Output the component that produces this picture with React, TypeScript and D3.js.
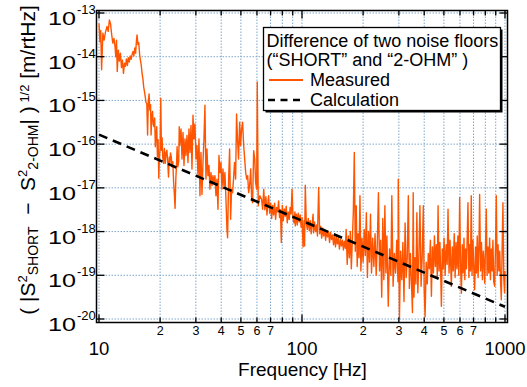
import * as d3 from "d3";

// log10 of the measured amplitude spectral density vs frequency [Hz]
const measuredLow: [number, number][] = [
  [10.0, -13.24], [10.1, -13.66], [10.2, -13.4], [10.3, -14.3], [10.45, -13.46], [10.6, -13.62],
  [10.75, -13.45], [10.95, -13.31], [11.1, -13.42], [11.25, -13.16], [11.4, -13.25], [11.55, -13.5],
  [11.7, -13.69], [11.85, -13.58], [12.0, -13.78], [12.1, -14.0], [12.2, -13.62], [12.3, -14.34],
  [12.45, -13.85], [12.6, -14.1], [12.75, -13.92], [12.9, -14.25], [13.05, -14.08], [13.2, -14.38],
  [13.35, -14.15], [13.5, -14.22], [13.65, -14.05], [13.8, -14.2], [13.95, -14.02], [14.1, -14.12],
  [14.25, -13.98], [14.4, -14.06], [14.55, -13.95], [14.7, -13.88], [14.85, -13.98], [15.0, -13.8],
  [15.15, -13.92], [15.3, -13.62], [15.4, -13.5], [15.55, -13.72], [15.7, -13.68], [15.85, -13.95],
  [16.0, -14.08], [16.15, -14.2], [16.3, -14.38], [16.45, -14.5], [16.6, -14.69], [16.75, -14.8],
  [16.9, -14.92], [17.05, -15.05], [17.2, -15.07], [17.35, -15.79], [17.5, -15.02], [17.65, -14.85],
  [17.8, -15.22], [17.95, -15.1], [18.05, -15.79], [18.2, -15.37], [18.35, -15.25], [18.5, -15.55],
  [18.65, -15.6], [18.8, -15.4], [18.95, -16.06], [19.1, -15.75], [19.25, -15.6], [19.4, -16.29],
  [19.55, -15.9], [19.7, -16.78], [19.85, -16.29], [20.0, -16.1], [20.15, -14.95], [20.3, -16.14],
  [20.45, -15.85], [20.6, -16.29], [20.8, -16.44], [21.0, -16.1], [21.2, -16.44], [21.4, -16.2],
  [21.6, -16.14], [21.8, -16.4], [22.0, -16.75], [22.2, -16.3], [22.35, -16.44], [22.5, -16.2],
  [22.7, -16.29], [22.9, -16.52], [23.1, -16.4], [23.3, -16.85], [23.5, -17.13], [23.7, -17.47],
  [23.9, -16.8], [24.1, -16.45], [24.25, -16.06], [24.45, -16.52], [24.7, -16.4], [24.85, -15.6],
  [25.0, -16.03],
];

const measuredMid: [number, number][] = [
  [25.35, -15.65], [25.64, -16.34], [25.93, -15.73], [26.22, -16.49], [26.52, -15.88], [26.82, -16.26],
  [27.13, -15.8], [27.44, -16.42], [27.75, -15.65], [28.07, -16.19], [28.39, -15.57], [28.71, -16.57],
  [29.04, -15.34], [29.37, -15.88], [29.7, -15.54], [30.04, -16.34], [30.38, -16.03], [30.73, -16.72],
  [31.08, -15.88], [31.43, -17.18], [31.79, -16.19], [32.15, -17.15], [32.52, -16.42], [32.89, -15.88],
  [33.26, -15.11], [33.64, -16.8], [34.03, -16.11], [34.41, -16.72], [34.81, -16.49], [35.2, -17.03],
  [35.61, -16.65], [36.01, -16.95], [36.42, -16.72], [36.84, -16.88], [37.26, -16.72], [37.68, -17.18],
  [38.11, -16.8], [38.55, -17.49], [38.99, -16.26], [39.43, -16.65], [39.88, -16.42], [40.34, -17.03],
  [40.8, -16.57], [41.26, -16.95], [41.73, -16.65], [42.21, -17.26], [42.69, -17.95], [43.0, -18.14],
  [43.5, -16.8], [44.0, -16.11], [44.5, -17.72], [45.0, -17.03], [45.5, -17.11], [46.0, -16.8],
  [46.5, -16.42], [47.1, -16.8], [47.6, -15.31], [48.2, -15.96], [48.7, -16.34], [49.3, -15.5],
  [49.8, -16.03], [50.4, -15.65], [51.0, -15.5], [51.6, -16.03], [52.2, -16.34], [52.8, -16.65],
  [53.4, -16.8], [54.0, -16.72], [54.6, -17.11], [55.2, -16.95], [55.9, -16.57], [56.5, -17.26],
  [57.1, -17.34], [57.8, -16.15], [58.5, -16.34], [59.1, -16.88], [59.8, -17.03], [60.2, -14.58],
  [60.9, -17.41], [62.0, -17.18], [63.2, -17.26], [64.0, -17.49],
  [64.8, -17.03], [65.6, -17.5], [66.4, -17.2], [67.2, -17.62], [68.0, -17.3], [68.5, -17.18],
  [69.3, -17.58], [70.1, -17.35], [70.9, -17.7], [71.7, -17.4], [72.5, -17.62], [73.3, -17.35],
  [74.1, -17.72], [75.0, -17.45], [75.8, -17.55], [76.7, -17.3], [77.5, -17.68], [78.3, -17.5],
  [79.1, -18.25], [80.0, -17.4], [80.9, -17.75], [81.8, -17.48], [82.7, -17.65], [83.6, -17.42],
  [84.6, -17.8], [85.5, -17.55], [86.5, -17.72], [87.4, -17.45], [88.4, -17.6], [89.3, -17.03],
  [90.3, -17.7], [91.3, -17.8], [92.3, -17.55], [92.7, -17.87], [93.8, -17.6], [94.8, -17.85],
  [95.8, -17.58], [96.9, -17.78], [98.0, -17.62], [99.0, -17.9], [100.1, -17.68], [101.2, -18.35],
  [102.3, -17.75], [103.0, -18.33], [103.8, -16.94], [105.0, -17.8], [106.2, -17.95], [107.4, -17.7],
  [108.6, -17.98], [109.8, -17.75], [111.0, -18.05], [112.2, -17.82], [113.4, -17.6], [114.0, -18.03],
  [115.3, -17.78], [116.6, -18.0], [117.9, -17.85], [119.2, -18.1], [120.8, -16.99], [122.2, -18.05],
  [123.6, -17.88], [125.0, -18.15], [126.4, -17.92], [127.8, -18.1], [129.3, -17.95], [130.7, -18.2],
  [132.2, -17.98], [133.7, -18.12], [135.2, -18.0], [136.7, -18.25], [138.2, -18.02], [139.8, -18.18],
  [141.4, -18.08], [143.0, -18.3], [144.6, -18.1], [146.2, -18.35], [147.9, -18.12], [149.5, -18.28],
  [151.2, -18.15], [152.9, -18.4], [154.7, -18.18], [156.4, -18.33], [158.2, -18.2], [160.0, -18.42],
  [161.8, -18.22], [163.6, -18.38],
];

const measuredHigh: [number, number][] = [
  [165, -17.95], [167, -18.75], [169, -18.1], [171, -18.6], [173, -18.0], [175, -18.85],
  [177, -18.2], [179, -17.55], [181, -16.19], [183, -18.45], [185, -17.41], [187, -18.8],
  [189, -18.05], [191, -18.6], [193, -17.18], [195, -18.9], [197.5, -18.15], [200, -18.7],
  [202.5, -17.95], [205, -18.55], [207.5, -17.57], [210, -19.05], [212.5, -18.0], [215, -18.7],
  [217.5, -17.6], [220, -18.95], [223, -18.15], [226, -18.8], [229, -18.05], [232, -19.0],
  [235, -18.25], [238, -17.11], [241, -18.9], [244, -18.2], [247, -19.5], [250, -17.7],
  [253, -19.1], [256, -17.41], [259, -18.95], [262, -18.1], [266, -19.71], [270, -18.4],
  [274, -19.0], [277, -17.18], [281, -19.25], [285, -18.5], [289, -18.95], [293, -18.2],
  [297, -19.15], [298, -16.8], [302, -19.98], [306, -18.45], [310, -19.1], [314, -18.25],
  [318, -19.6], [322, -17.8], [326, -19.05], [330, -18.6], [334, -17.18], [338, -19.3],
  [342, -18.5], [346, -19.15], [350, -19.85], [353, -17.11], [356, -19.5], [360, -18.6],
  [364, -19.2], [368, -17.57], [372, -19.4], [376, -18.7], [381, -17.41], [386, -19.25],
  [391, -18.55], [396, -17.41], [400, -19.35], [404, -19.95], [409, -18.7], [414, -19.2],
  [419, -18.5], [424, -18.85], [429, -18.2], [434, -19.48], [439, -18.35], [444, -18.95],
  [449, -18.1], [454, -18.8], [459, -18.3], [464, -19.05], [468, -17.41], [473, -18.9],
  [478, -18.25], [483, -19.1], [486, -19.71], [491, -18.4], [496, -18.85], [501, -18.15],
  [507, -19.0], [513, -18.3], [519, -18.75], [524, -17.49], [530, -18.95], [536, -18.2],
  [544, -19.25], [550, -18.35], [556, -18.9], [562, -18.05], [568, -19.05], [574, -18.25],
  [580, -18.85], [586, -18.1], [592, -19.0], [598, -17.22], [604, -18.8], [610, -19.41],
  [616, -18.3], [622, -18.95], [628, -18.15], [634, -19.1], [640, -18.4], [646, -18.85],
  [652, -18.05], [657, -17.34], [664, -19.05], [670, -18.3], [676, -18.9], [682, -17.18],
  [688, -19.0], [695, -18.2], [702, -18.85], [709, -19.33], [716, -18.35], [723, -18.95],
  [730, -18.1], [737, -19.05], [744, -18.4], [750, -17.15], [758, -18.9], [766, -18.25],
  [774, -19.1], [782, -18.45], [790, -18.8], [794, -19.18], [802, -18.3], [809, -17.49],
  [816, -19.0], [824, -18.35], [832, -18.95], [840, -18.15], [848, -19.1], [856, -18.4],
  [864, -18.9], [872, -18.2], [880, -19.15], [889, -19.25], [898, -18.35], [906, -17.18],
  [915, -19.0], [924, -18.3], [933, -18.9], [942, -18.45], [951, -19.15], [959, -19.56],
  [968, -18.4], [977, -17.34], [986, -19.05], [995, -19.4], [1000, -18.9],
];

// calculated noise floor difference (straight line on log-log)
const calculation: [number, number][] = [
  [10, 1.65e-16],
  [1000, 1.9e-20],
];

const xMajor = [10, 100, 1000];
const xMinor = [20, 30, 40, 50, 60, 70, 80, 90, 200, 300, 400, 500, 600, 700, 800, 900];
const xMinorLabels = ["2", "3", "4", "5", "6", "7"];
const yExponents = [-13, -14, -15, -16, -17, -18, -19, -20];

const measured = [...measuredLow, ...measuredMid, ...measuredHigh];

const W = 527;
const H = 387;
const frame = { left: 96.5, top: 10.5, right: 507.5, bottom: 322.5 };
const FONT = "'Liberation Sans', Arial, Helvetica, sans-serif";
const GRID = "#7ea7cc";

export default function App() {
  const x = d3.scaleLog().domain([10, 1000]).range([99, 505]);
  const y = d3.scaleLog().domain([1e-20, 1e-13]).range([319, 13]);

  const measuredPath = d3
    .line<[number, number]>()
    .x((d) => x(d[0]))
    .y((d) => y(Math.pow(10, d[1])))(measured);

  const calcPath = d3
    .line<[number, number]>()
    .x((d) => x(d[0]))
    .y((d) => y(d[1]))(calculation);

  const gridX = [...xMajor, ...xMinor];
  const labelled = xMinor.filter((v) => String(v)[0] !== "8" && String(v)[0] !== "9");

  return (
    <svg
      width={W}
      height={H}
      style={{ position: "fixed", left: 0, top: 0, background: "#fff" }}
      fontFamily={FONT}
    >
      <defs>
        <clipPath id="plotClip">
          <rect x={frame.left} y={frame.top} width={frame.right - frame.left} height={frame.bottom - frame.top} />
        </clipPath>
      </defs>

      {/* dotted grid */}
      <g stroke={GRID} strokeWidth={1} strokeDasharray="1.5,1.5">
        {gridX.map((v) => (
          <line key={"gx" + v} x1={x(v)} x2={x(v)} y1={frame.top} y2={frame.bottom} />
        ))}
        {yExponents.map((e) => (
          <line key={"gy" + e} x1={frame.left} x2={frame.right} y1={y(Math.pow(10, e))} y2={y(Math.pow(10, e))} />
        ))}
      </g>

      {/* data */}
      <g clipPath="url(#plotClip)">
        <path d={measuredPath || ""} fill="none" stroke="#ff5500" strokeWidth={1.4} strokeLinejoin="round" />
        <path d={calcPath || ""} fill="none" stroke="#000" strokeWidth={2.6} strokeDasharray="9,6" />
      </g>

      {/* frame and ticks */}
      <rect
        x={frame.left}
        y={frame.top}
        width={frame.right - frame.left}
        height={frame.bottom - frame.top}
        fill="none"
        stroke="#000"
        strokeWidth={1.5}
      />
      <g stroke="#000" strokeWidth={1.3}>
        {yExponents.map((e) => {
          const yy = y(Math.pow(10, e));
          return (
            <g key={"ty" + e}>
              <line x1={frame.left} x2={frame.left + 8} y1={yy} y2={yy} />
              <line x1={frame.right} x2={frame.right - 8} y1={yy} y2={yy} />
            </g>
          );
        })}
        {xMajor.map((v) => (
          <g key={"tM" + v}>
            <line x1={x(v)} x2={x(v)} y1={frame.bottom} y2={frame.bottom - 8} />
            <line x1={x(v)} x2={x(v)} y1={frame.top} y2={frame.top + 8} />
          </g>
        ))}
        {xMinor.map((v) => (
          <g key={"tm" + v}>
            <line x1={x(v)} x2={x(v)} y1={frame.bottom} y2={frame.bottom - 5} />
            <line x1={x(v)} x2={x(v)} y1={frame.top} y2={frame.top + 5} />
          </g>
        ))}
      </g>

      {/* y tick labels */}
      {yExponents.map((e) => {
        const yy = y(Math.pow(10, e));
        return (
          <g key={"ly" + e}>
            <text x={48} y={yy + 12} fontSize={18.5} textLength={28} lengthAdjust="spacingAndGlyphs">
              10
            </text>
            <text x={77} y={yy + 1} fontSize={13}>
              {String(e)}
            </text>
          </g>
        );
      })}

      {/* x tick labels */}
      {xMajor.map((v) => (
        <text key={"lx" + v} x={x(v)} y={355} fontSize={18.5} textAnchor="middle">
          {v}
        </text>
      ))}
      {labelled.map((v) => (
        <text key={"lm" + v} x={x(v)} y={335} fontSize={12.5} textAnchor="middle">
          {xMinorLabels[(v >= 100 ? v / 100 : v / 10) - 2]}
        </text>
      ))}

      {/* axis titles */}
      <text x={302.5} y={376} fontSize={19} textAnchor="middle">
        Frequency [Hz]
      </text>
      <text
        transform="translate(35,160) rotate(-90)"
        fontSize={21}
        textAnchor="middle"
        style={{ whiteSpace: "pre" }}
      >
        <tspan>( |S</tspan>
        <tspan fontSize={13} dy={-8}>2</tspan>
        <tspan fontSize={14} dy={11}>SHORT</tspan>
        <tspan dy={-3}>{"  \u2212  S"}</tspan>
        <tspan fontSize={13} dy={-8}>2</tspan>
        <tspan fontSize={14} dy={11}>2-OHM</tspan>
        <tspan dy={-3}>| )</tspan>
        <tspan fontSize={13} dy={-6}> 1/2</tspan>
        <tspan dy={6}> [m/rtHz]</tspan>
      </text>

      {/* legend */}
      <g>
        <rect x={265.5} y={29.5} width={237} height={83} fill="#000" />
        <rect x={263.5} y={27.5} width={237} height={83} fill="#fff" stroke="#000" strokeWidth={1.3} />
        <text x={266.5} y={46.5} fontSize={18}>
          Difference of two noise floors
        </text>
        <text x={266.5} y={66} fontSize={18}>
          (“SHORT” and “2-OHM” )
        </text>
        <line x1={269} x2={303} y1={80} y2={80} stroke="#ff5500" strokeWidth={2} />
        <text x={310} y={86} fontSize={18}>
          Measured
        </text>
        <line x1={268} x2={304} y1={100} y2={100} stroke="#000" strokeWidth={2.5} strokeDasharray="7,5.5" />
        <text x={310} y={105.5} fontSize={18}>
          Calculation
        </text>
      </g>
    </svg>
  );
}
